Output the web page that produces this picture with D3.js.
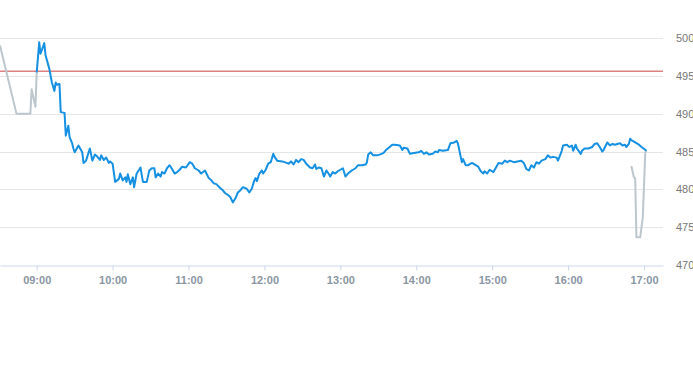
<!DOCTYPE html>
<html>
<head>
<meta charset="utf-8">
<script src="https://cdn.jsdelivr.net/npm/d3@7"></script>
<style>
  body { margin: 0; background: #fff; }
  svg { display: block; font-family: "Liberation Sans", Arial, sans-serif; }
</style>
</head>
<body>
<svg id="chart"></svg>
<script>
// pre-market (gray)
let preTimes = ["08:31", "08:44", "08:55", "08:56", "08:59", "09:00"];
let preValues = [499.0, 490.0, 490.0, 493.2, 490.9, 495.4];

// regular session (blue)
let mainTimes = [
    "09:00", "09:02", "09:03", "09:06", "09:07", "09:10", "09:12", "09:14", "09:15", "09:16",
    "09:18", "09:19", "09:22", "09:23", "09:25", "09:26", "09:28", "09:29", "09:30", "09:33",
    "09:36", "09:37", "09:39", "09:42", "09:44", "09:46", "09:48", "09:50", "09:51", "09:53",
    "09:55", "09:57", "09:58", "10:00", "10:02", "10:05", "10:06", "10:08", "10:10", "10:11",
    "10:12", "10:14", "10:16", "10:17", "10:19", "10:21", "10:22", "10:24", "10:27", "10:29",
    "10:31", "10:33", "10:34", "10:36", "10:38", "10:39", "10:41", "10:43", "10:45", "10:47",
    "10:49", "10:51", "10:53", "10:55", "10:58", "11:01", "11:03", "11:05", "11:08", "11:10",
    "11:13", "11:16", "11:18", "11:20", "11:22", "11:25", "11:27", "11:29", "11:31", "11:33",
    "11:35", "11:37", "11:39", "11:41", "11:43", "11:46", "11:48", "11:50", "11:52", "11:53",
    "11:54", "11:56", "11:58", "11:59", "12:01", "12:03", "12:05", "12:07", "12:08", "12:10",
    "12:14", "12:16", "12:19", "12:21", "12:23", "12:25", "12:27", "12:29", "12:31", "12:33",
    "12:36", "12:38", "12:40", "12:41", "12:43", "12:45", "12:47", "12:49", "12:51", "12:52",
    "12:54", "12:56", "12:58", "13:00", "13:02", "13:04", "13:06", "13:09", "13:12", "13:14",
    "13:17", "13:20", "13:21", "13:22", "13:24", "13:26", "13:29", "13:31", "13:34", "13:36",
    "13:39", "13:41", "13:43", "13:47", "13:49", "13:50", "13:53", "13:55", "13:58", "14:02",
    "14:04", "14:06", "14:08", "14:10", "14:13", "14:15", "14:17", "14:18", "14:21", "14:25",
    "14:27", "14:30", "14:32", "14:33", "14:36", "14:37", "14:39", "14:41", "14:44", "14:47",
    "14:49", "14:51", "14:53", "14:54", "14:56", "14:58", "15:01", "15:03", "15:05", "15:08",
    "15:10", "15:12", "15:14", "15:17", "15:20", "15:23", "15:25", "15:27", "15:29", "15:31",
    "15:33", "15:35", "15:37", "15:39", "15:42", "15:44", "15:46", "15:48", "15:51", "15:52",
    "15:55", "15:56", "15:59", "16:01", "16:03", "16:04", "16:06", "16:07", "16:10", "16:11",
    "16:13", "16:16", "16:19", "16:21", "16:23", "16:25", "16:27", "16:28", "16:31", "16:33",
    "16:35", "16:37", "16:39", "16:41", "16:43", "16:45", "16:46", "16:48", "16:49", "16:50",
    "16:53", "16:56", "16:58", "17:02"
];
let mainValues = [
    495.4, 499.4, 497.9, 499.3, 497.7, 495.9, 494.1, 493.0, 494.1, 493.8,
    493.9, 490.2, 490.1, 487.1, 488.4, 486.9, 486.1, 485.4, 484.9, 485.8,
    484.9, 483.5, 483.8, 485.4, 483.8, 484.6, 484.3, 483.9, 484.5, 483.9,
    484.2, 483.5, 483.7, 483.4, 481.0, 481.4, 482.1, 481.2, 481.6, 481.0,
    482.0, 480.7, 481.6, 480.3, 482.1, 482.6, 482.9, 481.0, 481.0, 482.5,
    482.8, 482.8, 481.6, 482.1, 481.7, 482.3, 482.1, 482.8, 483.2, 482.7,
    482.1, 482.3, 482.6, 483.0, 482.9, 483.6, 483.4, 482.8, 482.5, 482.1,
    482.5, 481.5, 481.2, 480.8, 480.7, 480.2, 479.9, 479.5, 479.3, 479.0,
    478.3, 478.8, 479.6, 479.9, 480.3, 480.1, 479.6, 480.1, 481.2, 481.5,
    481.1, 482.1, 482.5, 482.1, 482.6, 483.4, 483.6, 484.7, 484.3, 483.8,
    483.7, 483.6, 483.4, 483.7, 483.3, 483.9, 483.6, 484.0, 483.9, 483.4,
    482.9, 482.8, 483.3, 482.7, 482.9, 482.8, 481.7, 482.5, 482.0, 481.7,
    482.3, 482.1, 482.4, 482.6, 482.8, 481.7, 482.1, 482.5, 482.8, 483.2,
    483.2, 483.3, 483.6, 484.6, 484.9, 484.5, 484.5, 484.6, 484.8, 485.2,
    485.6, 485.9, 485.9, 485.8, 485.2, 485.5, 485.4, 484.7, 484.8, 484.9,
    485.1, 484.7, 484.9, 484.6, 484.7, 485.0, 484.9, 485.2, 485.1, 485.2,
    486.1, 486.2, 486.4, 486.0, 483.6, 484.0, 483.2, 483.2, 483.5, 483.2,
    483.0, 482.4, 482.1, 482.4, 482.1, 482.6, 482.3, 482.9, 483.5, 483.4,
    483.8, 483.6, 483.8, 483.6, 483.7, 483.8, 483.5, 482.7, 482.5, 483.2,
    482.9, 483.6, 483.4, 483.8, 484.0, 484.5, 484.2, 484.3, 484.2, 483.8,
    485.1, 485.8, 485.9, 485.6, 485.8, 485.1, 485.9, 485.4, 484.7, 485.1,
    485.4, 485.4, 485.6, 486.0, 486.1, 485.6, 485.0, 485.2, 486.2, 485.8,
    486.0, 485.9, 486.0, 486.1, 485.8, 485.9, 485.6, 486.0, 486.7, 486.5,
    486.2, 485.9, 485.6, 485.1
];

// after-hours (gray)
let postTimes = ["16:50", "16:52", "16:53", "16:54", "16:57", "16:59", "17:01", "17:02"];
let postValues = [483.1, 481.6, 481.5, 473.7, 473.7, 476.3, 484.9, 485.1];

let refValue = 495.6;
let yTicks = [470, 475, 480, 485, 490, 495, 500];

let width = 693;
let height = 365;
let plot = { left: 0, right: 663, top: 37.8, bottom: 265.3 };

let parseTime = d3.timeParse("%H:%M");
let zip = (times, values) => times.map((t, i) => ({ date: parseTime(t), value: values[i] }));

let pre = zip(preTimes, preValues);
let main = zip(mainTimes, mainValues);
let post = zip(postTimes, postValues);

let svg = d3.select("#chart")
    .attr("width", width)
    .attr("height", height);

let xScale = d3.scaleTime()
    .domain([parseTime("08:31"), parseTime("17:15")])
    .range([plot.left, plot.right]);

let yScale = d3.scaleLinear()
    .domain([470, 500])
    .range([plot.bottom, plot.top]);

// grid lines
svg.append("g")
    .selectAll("line")
    .data(yTicks.filter(d => d !== 470))
    .enter()
    .append("line")
      .attr("x1", plot.left)
      .attr("x2", plot.right)
      .attr("y1", d => Math.round(yScale(d)) + 0.5)
      .attr("y2", d => Math.round(yScale(d)) + 0.5)
      .attr("stroke", "#e6e6e6")
      .attr("stroke-width", 1);

// y axis labels on the right
let yAxis = d3.axisRight(yScale)
    .tickValues(yTicks)
    .tickSize(0)
    .tickPadding(13);

svg.append("g")
    .attr("transform", "translate(" + plot.right + ",0)")
    .call(yAxis)
    .call(g => g.select(".domain").remove())
    .call(g => g.selectAll("text")
        .attr("fill", "#777")
        .style("font-size", "11px")
        .style("font-family", "'Liberation Sans', Arial, sans-serif"));

// x axis
let xAxis = d3.axisBottom(xScale)
    .ticks(d3.timeHour.every(1))
    .tickFormat(d3.timeFormat("%H:%M"))
    .tickSize(5)
    .tickSizeOuter(0)
    .tickPadding(6);

svg.append("g")
    .attr("transform", "translate(0," + (Math.round(plot.bottom) + 0.5) + ")")
    .call(xAxis)
    .call(g => g.select(".domain").attr("stroke", "#ccd6eb"))
    .call(g => g.selectAll(".tick line").attr("stroke", "#ccd6eb"))
    .call(g => g.selectAll("text")
        .attr("fill", "#8a96a3")
        .style("font-size", "11px")
        .style("font-weight", "bold")
        .style("font-family", "'Liberation Sans', Arial, sans-serif"));

// reference line
svg.append("line")
    .attr("x1", plot.left)
    .attr("x2", plot.right)
    .attr("y1", yScale(refValue))
    .attr("y2", yScale(refValue))
    .attr("stroke", "#c8423f")
    .attr("stroke-width", 1);

let line = d3.line()
    .x(d => xScale(d.date))
    .y(d => yScale(d.value));

svg.append("path")
    .datum(pre)
    .attr("d", line)
    .attr("fill", "none")
    .attr("stroke", "#bcc6cd")
    .attr("stroke-width", 2)
    .attr("stroke-linejoin", "round");

svg.append("path")
    .datum(post)
    .attr("d", line)
    .attr("fill", "none")
    .attr("stroke", "#bcc6cd")
    .attr("stroke-width", 2)
    .attr("stroke-linejoin", "round");

svg.append("path")
    .datum(main)
    .attr("d", line)
    .attr("fill", "none")
    .attr("stroke", "#1590e2")
    .attr("stroke-width", 2)
    .attr("stroke-linejoin", "round");
</script>
</body>
</html>
